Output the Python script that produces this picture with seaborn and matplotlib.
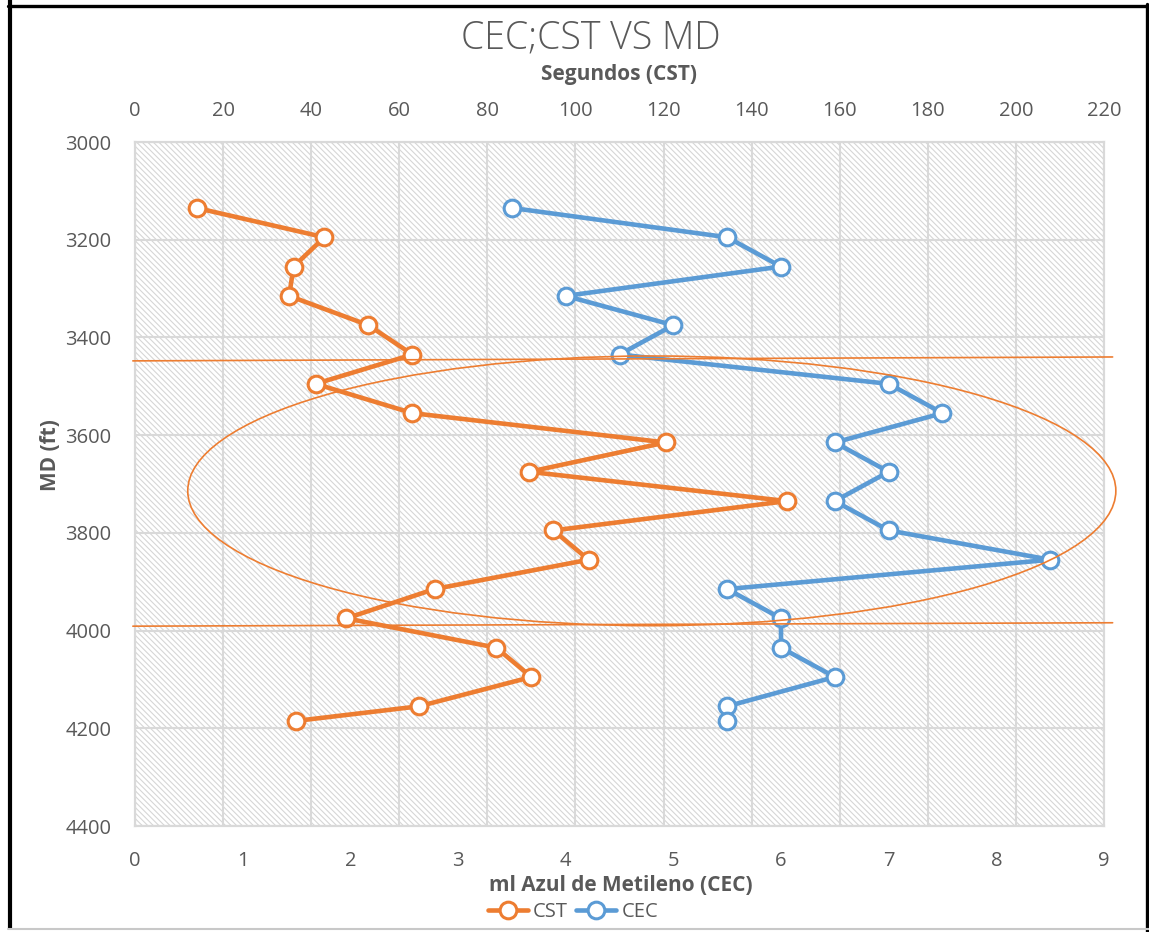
import matplotlib
matplotlib.use("Agg")
import matplotlib.pyplot as plt
from matplotlib.patches import Rectangle, Ellipse
from matplotlib.lines import Line2D
import seaborn as sns
import pandas as pd

# Measured depth of each sample (ft)
md_ft = [3135, 3195, 3255, 3315, 3375, 3435, 3495, 3555, 3615, 3675,
         3735, 3795, 3855, 3915, 3975, 4035, 4095, 4155, 4185]
# Capillary suction time (s)
cst_s = [14, 43, 36, 35, 53, 63, 41, 63, 120.5, 89.5,
         148, 95, 103, 68, 48, 82, 90, 64.5, 36.5]
# Methylene blue volume, cation exchange capacity (ml)
cec_ml = [3.5, 5.5, 6.0, 4.0, 5.0, 4.5, 7.0, 7.5, 6.5, 7.0,
          6.5, 7.0, 8.5, 5.5, 6.0, 6.0, 6.5, 5.5, 5.5]

cst_ticks = list(range(0, 221, 20))
cec_ticks = list(range(0, 10))
md_ticks = list(range(3000, 4401, 200))

title = "CEC;CST VS MD"
top_label = "Segundos (CST)"
bottom_label = "ml Azul de Metileno (CEC)"
left_label = "MD (ft)"

ORANGE = "#ED7D31"
BLUE = "#5B9BD5"
GREY = "#595959"
GRID = "#d9d9d9"
HATCH = "#d6d6d6"

sns.set_style("white")
plt.rcParams["font.family"] = ["Open Sans", "DejaVu Sans"]
plt.rcParams["hatch.linewidth"] = 0.8
plt.rcParams["hatch.color"] = HATCH

df = pd.DataFrame({"md": md_ft, "cst": cst_s, "cec": cec_ml})

W, H = 1149, 932
fig = plt.figure(figsize=(W / 100, H / 100), dpi=100)
L, R, T, B = 135, 1104, 142, 826
ax = fig.add_axes([L / W, 1 - B / H, (R - L) / W, (B - T) / H])
ax2 = ax.twiny()

# hatched plot area
ax.set_axisbelow(True)
ax.add_patch(Rectangle((0, 0), 1, 1, transform=ax.transAxes, facecolor="white",
                       edgecolor=HATCH, hatch="\\" * 6, linewidth=0, zorder=0.1))

line_kw = dict(marker="o", markersize=12, markerfacecolor="white",
               markeredgewidth=2.2, linewidth=3.3, sort=False, estimator=None)
sns.lineplot(data=df, x="cst", y="md", ax=ax, color=ORANGE,
             markeredgecolor=ORANGE, label="CST", legend=False, **line_kw)
sns.lineplot(data=df, x="cec", y="md", ax=ax2, color=BLUE,
             markeredgecolor=BLUE, label="CEC", legend=False, **line_kw)

# axis ranges
ax.set_xlim(0, 220)
ax2.set_xlim(0, 9)
ax.set_ylim(4400, 3000)

ax.xaxis.tick_top()
ax.xaxis.set_label_position("top")
ax.set_xticks(cst_ticks)
ax.set_yticks(md_ticks)
ax2.xaxis.tick_bottom()
ax2.xaxis.set_label_position("bottom")
ax2.set_xticks(cec_ticks)

ax.grid(True, color=GRID, linewidth=1.5)
ax2.grid(False)

for a in (ax, ax2):
    a.tick_params(length=0, labelsize=14.5, labelcolor=GREY)
    for s in a.spines.values():
        s.set_color(GRID)
        s.set_linewidth(1.5)
ax.tick_params(axis="x", pad=15)
ax.tick_params(axis="y", pad=17)
ax2.tick_params(axis="x", pad=18)

ax.set_xlabel(top_label, fontsize=15, fontweight="bold", color=GREY)
ax.xaxis.set_label_coords(0.499, 1.098)
ax.xaxis.label.set_va("center")
ax2.set_xlabel(bottom_label, fontsize=15, fontweight="bold", color=GREY)
ax2.xaxis.set_label_coords(0.5015, -0.0877)
ax2.xaxis.label.set_va("center")
ax.set_ylabel("")
ax2.set_ylabel("")
fig.text(51 / W, 1 - 455 / H, left_label, rotation=90, ha="center", va="center",
         fontsize=15, fontweight="bold", color=GREY)

fig.text(591 / W, 1 - 38 / H, title, ha="center", va="center",
         fontsize=27, color=GREY, fontweight="light")

# highlighted interval
ax2.add_patch(Ellipse((4.80, 3714), 8.62, 552, fill=False, edgecolor=ORANGE,
                      linewidth=1.2, clip_on=False, zorder=5))
ax2.plot([-0.02, 9.08], [3448, 3440], color=ORANGE, linewidth=1.2,
         clip_on=False, zorder=5)
ax2.plot([-0.02, 9.08], [3991, 3984], color=ORANGE, linewidth=1.2,
         clip_on=False, zorder=5)

handles = [ax.get_lines()[0], ax2.get_lines()[0]]
fig.legend(handles, ["CST", "CEC"], loc="center", bbox_to_anchor=(573 / W, 1 - 912 / H),
           ncol=2, frameon=False, fontsize=14.5, labelcolor=GREY, handlelength=2.0,
           handletextpad=0.25, columnspacing=0.4, borderpad=0)

# outer frame
for xs, ys, c, lw in [
        ([9.5, 9.5], [0, 928], "black", 3.0),
        ([8, W], [5.5, 5.5], "black", 2.4),
        ([1147, 1147], [4, 932], "black", 2.4),
        ([8, 1149], [929, 929], "#c8c8c8", 1.5)]:
    fig.add_artist(Line2D([x / W for x in xs], [1 - y / H for y in ys],
                          color=c, linewidth=lw, transform=fig.transFigure))

fig.savefig("out.png", dpi=100)
